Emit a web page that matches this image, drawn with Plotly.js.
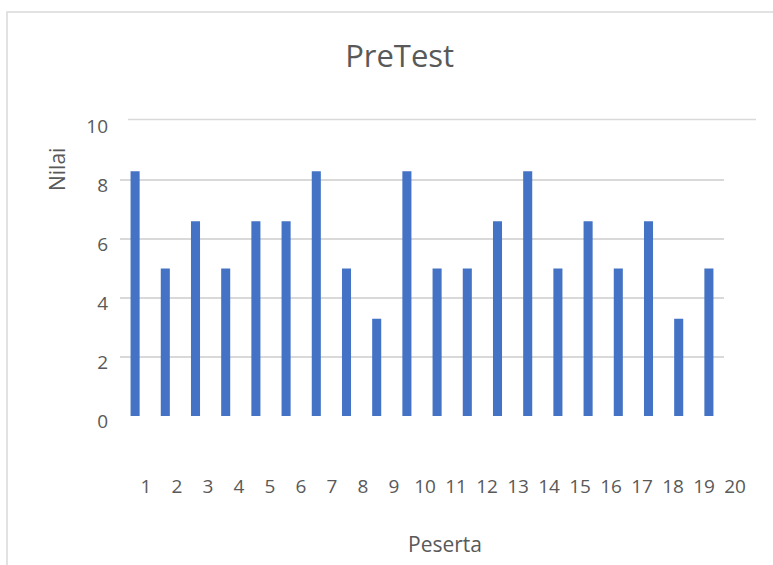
<!DOCTYPE html>
<html>
<head>
<meta charset="utf-8">
<script src="https://cdn.plot.ly/plotly-3.0.1.min.js"></script>
<style>html,body{margin:0;padding:0;background:#fff;}#chart{width:773px;height:565px;}</style>
</head>
<body>
<div id="chart"></div>
<script>
// Data
const peserta = [1,2,3,4,5,6,7,8,9,10,11,12,13,14,15,16,17,18,19,20];
const nilai = [8.3,5,6.6,5,6.6,6.6,8.3,5,3.3,8.3,5,5,6.6,8.3,5,6.6,5,6.6,3.3,5];
const xTickLabels = ['1','2','3','4','5','6','7','8','9','10','11','12','13','14','15','16','17','18','19','20'];
const yTicks = [0,2,4,6,8,10];

const textColor = '#595959';
const gridColor = '#d9d9d9';
const font = '"Open Sans", Lato, sans-serif';

const traces = [
  {
    type: 'bar',
    x: peserta,
    y: nilai,
    width: 0.3,
    marker: {color: '#4472C4'},
    showlegend: false,
    hoverinfo: 'x+y'
  },
  {
    type: 'scatter',
    mode: 'markers',
    x: peserta,
    y: peserta.map(() => null),
    xaxis: 'x2',
    yaxis: 'y2',
    showlegend: false,
    hoverinfo: 'skip'
  }
];

const layout = {
  width: 773,
  height: 565,
  margin: {l: 120, r: 13, t: 121, b: 149},
  paper_bgcolor: '#ffffff',
  plot_bgcolor: 'rgba(0,0,0,0)',
  font: {family: font, color: textColor, size: 18},
  title: {
    text: 'PreTest',
    font: {family: font, size: 31, color: textColor},
    xref: 'container', yref: 'container',
    x: 0.517, y: 1 - 56 / 565, xanchor: 'center', yanchor: 'middle'
  },
  xaxis: {
    domain: [0, 604 / 640],
    anchor: 'y',
    range: [0.5, 20.5],
    showticklabels: false,
    showgrid: false,
    zeroline: false,
    showline: false,
    ticks: ''
  },
  yaxis: {
    domain: [0, 1],
    anchor: 'x',
    range: [0, 10],
    tickmode: 'array',
    tickvals: yTicks,
    ticktext: yTicks.map(String),
    showgrid: true,
    gridcolor: gridColor,
    gridwidth: 1.5,
    zeroline: false,
    showline: false,
    ticks: '',
    ticklabelstandoff: 11,
    ticklabelshift: 5,
    tickfont: {family: font, size: 19, color: textColor}
  },
  xaxis2: {
    domain: [0, 1],
    anchor: 'y2',
    side: 'bottom',
    range: [0.1613, 20.806],
    tickmode: 'array',
    tickvals: peserta,
    ticktext: xTickLabels,
    ticks: '',
    ticklabelstandoff: 57,
    showgrid: false,
    zeroline: false,
    showline: false,
    tickfont: {family: font, size: 19, color: textColor}
  },
  yaxis2: {
    domain: [0, 1],
    anchor: 'x2',
    range: [0, 10],
    visible: false,
    showgrid: false,
    zeroline: false
  },
  annotations: [
    {
      text: 'Nilai', textangle: -90,
      xref: 'paper', yref: 'paper',
      x: (57 - 120) / 640, y: (416 - 170) / 295,
      xanchor: 'center', yanchor: 'middle', showarrow: false,
      font: {family: font, size: 21, color: textColor}
    },
    {
      text: 'Peserta',
      xref: 'paper', yref: 'paper',
      x: (445 - 120) / 640, y: (416 - 544) / 295,
      xanchor: 'center', yanchor: 'middle', showarrow: false,
      font: {family: font, size: 21, color: textColor}
    }
  ],
  shapes: [
    {
      type: 'rect', layer: 'below',
      xref: 'paper', yref: 'paper',
      x0: (7 - 120) / 640, x1: (800 - 120) / 640,
      y0: (416 - 600) / 295, y1: (416 - 12) / 295,
      line: {color: '#d9d9d9', width: 1.5}, fillcolor: 'rgba(0,0,0,0)'
    },
    {
      type: 'line', layer: 'below',
      xref: 'paper', yref: 'paper',
      x0: 8 / 640, x1: (756 - 120) / 640,
      y0: (416 - 119.5) / 295, y1: (416 - 119.5) / 295,
      line: {color: gridColor, width: 1.5}
    }
  ]
};

Plotly.newPlot('chart', traces, layout, {displayModeBar: false, staticPlot: true});
</script>
</body>
</html>
